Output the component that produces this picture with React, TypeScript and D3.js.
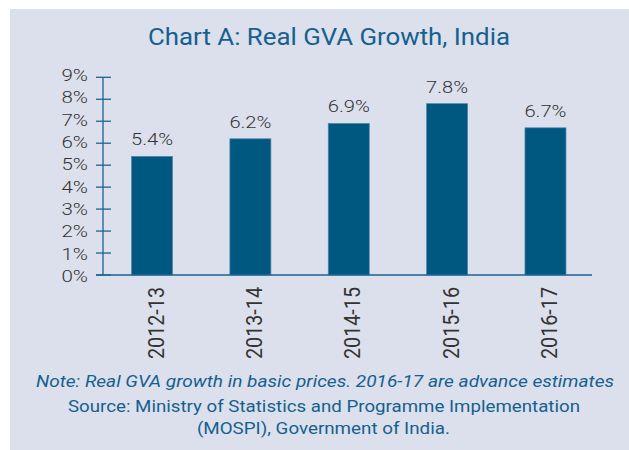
import React from "react";
import * as d3 from "d3";

const categories: string[] = ["2012-13", "2013-14", "2014-15", "2015-16", "2016-17"];
const values: number[] = [5.4, 6.2, 6.9, 7.8, 6.7];
const yTicks: number[] = [0, 1, 2, 3, 4, 5, 6, 7, 8, 9];
const title = "Chart A: Real GVA Growth, India";
const noteLine = "Note: Real GVA growth in basic prices. 2016-17 are advance estimates";
const sourceLines: string[] = [
  "Source: Ministry of Statistics and Programme Implementation",
  "(MOSPI), Government of India.",
];

const W = 629;
const H = 450;
const FONT = "Roboto, 'Liberation Sans', Arial, Helvetica, sans-serif";
const BG = "#dbe0ec";
const BAR = "#00577f";
const AXIS = "#1d6390";
const TEXT_BLUE = "#16608f";
const TEXT_GREY = "#333333";

export default function App() {
  const x = d3
    .scaleBand<string>()
    .domain(categories)
    .range([103, 594.5])
    .paddingInner(0.583)
    .paddingOuter(0.29);
  const y = d3.scaleLinear().domain([0, 9]).range([275, 77.3]);
  const y0 = y(0);
  const axisX = 103;

  return (
    <svg
      width={W}
      height={H}
      style={{ position: "absolute", left: 0, top: 0, background: "#ffffff" }}
      fontFamily={FONT}
    >
      <rect x={10} y={9} width={W - 10} height={H - 9} fill={BG} />
      <text
        x={329}
        y={45}
        textAnchor="middle"
        fontSize={23}
        fill={TEXT_BLUE}
        textLength={362}
        lengthAdjust="spacingAndGlyphs"
      >
        {title}
      </text>

      {/* bars */}
      {categories.map((c, i) => (
        <rect
          key={c}
          x={x(c)!}
          y={y(values[i])}
          width={x.bandwidth()}
          height={y0 - y(values[i])}
          fill={BAR}
          stroke="#4f86ab"
          strokeWidth={0.7}
        />
      ))}

      {/* value labels */}
      {categories.map((c, i) => (
        <text
          key={c}
          x={x(c)! + x.bandwidth() / 2}
          y={y(values[i]) - 11}
          textAnchor="middle"
          fontSize={16.5}
          fontWeight={300}
          fill={TEXT_GREY}
          textLength={42}
          lengthAdjust="spacingAndGlyphs"
        >
          {values[i].toFixed(1) + "%"}
        </text>
      ))}

      {/* y axis */}
      <line x1={axisX} x2={axisX} y1={y(9)} y2={y0} stroke={AXIS} strokeWidth={1.3} />
      {yTicks.map((t) => (
        <g key={t}>
          <line x1={axisX - 7} x2={axisX + 8} y1={y(t)} y2={y(t)} stroke={AXIS} strokeWidth={1.3} />
          <text
            x={88}
            y={y(t) + 7 + t * -0.35}
            textAnchor="end"
            fontSize={16}
            fontWeight={300}
            fill={TEXT_GREY}
            textLength={26.5}
            lengthAdjust="spacingAndGlyphs"
          >
            {t + "%"}
          </text>
        </g>
      ))}

      {/* x axis */}
      <line x1={96} x2={592} y1={y0} y2={y0} stroke={AXIS} strokeWidth={1.3} />
      {categories.map((c) => {
        const cx = x(c)! + x.bandwidth() / 2 + 11.5;
        const ty = y0 + 12;
        return (
          <text
            key={c}
            transform={`translate(${cx},${ty}) rotate(-90)`}
            textAnchor="end"
            fontSize={22}
            fill={TEXT_GREY}
            textLength={72}
            lengthAdjust="spacingAndGlyphs"
          >
            {c}
          </text>
        );
      })}

      {/* notes */}
      <text
        x={325}
        y={387}
        textAnchor="middle"
        fontSize={17}
        fontStyle="italic"
        fill={TEXT_BLUE}
        textLength={578}
        lengthAdjust="spacingAndGlyphs"
      >
        {noteLine}
      </text>
      {sourceLines.map((l, i) => (
        <text
          key={i}
          x={i === 0 ? 324 : 323.4}
          y={411.5 + i * 22.7}
          textAnchor="middle"
          fontSize={17}
          fill={TEXT_BLUE}
          textLength={i === 0 ? 512 : 253}
          lengthAdjust="spacingAndGlyphs"
        >
          {l}
        </text>
      ))}
    </svg>
  );
}
